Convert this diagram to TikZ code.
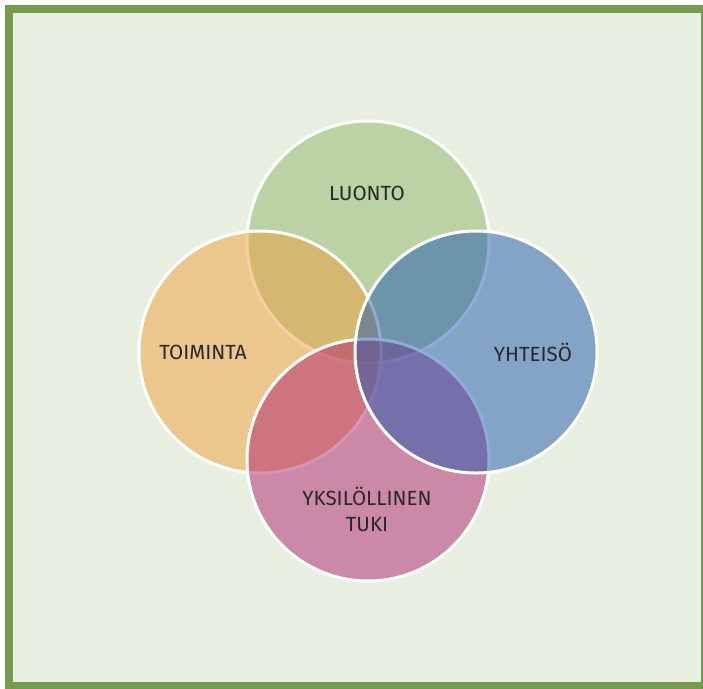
\documentclass[tikz,border=0pt]{standalone}
\usepackage{fontspec}
\setmainfont{Fira Sans}
\usepackage{xcolor}
\usepackage{tikz}
\definecolor{frame green}{RGB}{117,155,79}
\definecolor{paper green}{RGB}{232,238,224}
\definecolor{leaf green}{RGB}{144,184,106}
\definecolor{sand orange}{RGB}{238,160,60}
\definecolor{deep blue}{RGB}{32,90,176}
\definecolor{berry pink}{RGB}{178,36,112}
\definecolor{label grey}{RGB}{40,40,40}
\tikzset{
	venn/.style={fill opacity=0.5, draw=white, draw opacity=1, line width=3pt},
	venn label/.style={text=label grey, font=\fontsize{20.5}{26}\selectfont, align=center, inner sep=0pt}
}

\begin{document}
\begin{tikzpicture}[x=1pt, y=-1pt]
			\useasboundingbox (0, 0) rectangle (703, 688);
			% frame
			\begin{scope}
				\clip (0, 0) rectangle (703, 688);
				\fill[paper green] (8.5, 9) rectangle (705, 686);
				\draw[frame green, line width=8pt] (8.5, 9) rectangle (705, 686);
			\end{scope}
			% circles
			\begin{scope}
				\filldraw[venn, fill=leaf green] (368, 242) circle (121);
				\filldraw[venn, fill=sand orange] (260, 352) circle (121);
				\filldraw[venn, fill=berry pink] (368, 460) circle (121);
				\filldraw[venn, fill=deep blue] (476, 352) circle (121);
			\end{scope}
			% labels
			\node[venn label] (luonto) at (367, 193) {LUONTO};
			\node[venn label] (toiminta) at (203, 352) {TOIMINTA};
			\node[venn label] (yhteiso) at (533, 352) {YHTEISÖ};
			\node[venn label] (tuki) at (367, 509) {YKSILÖLLINEN\\TUKI};
		\end{tikzpicture}
\end{document}
